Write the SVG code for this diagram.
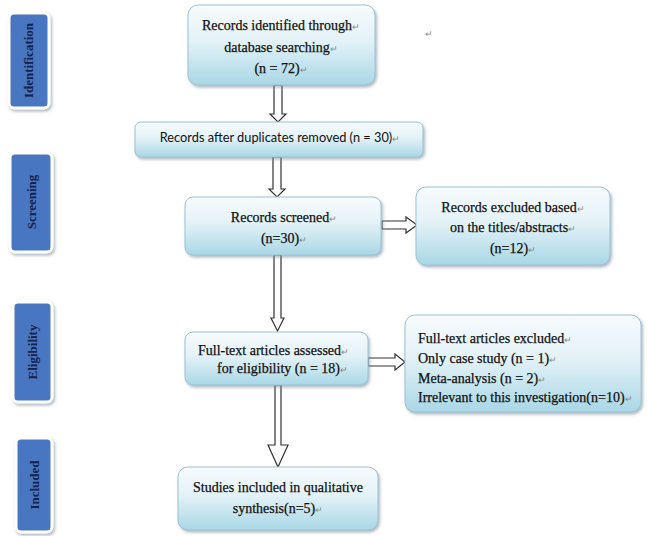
<svg xmlns="http://www.w3.org/2000/svg" width="648" height="536" viewBox="0 0 648 536">
<defs>
<linearGradient id="g" x1="0" y1="0" x2="0" y2="1">
<stop offset="0" stop-color="#f7fbfd"/>
<stop offset="0.45" stop-color="#e3f2f7"/>
<stop offset="1" stop-color="#a9d7e6"/>
</linearGradient>
<filter id="sh" x="-10%" y="-10%" width="130%" height="140%">
<feDropShadow dx="1.5" dy="2" stdDeviation="1.5" flood-color="#7a8a96" flood-opacity="0.6"/>
</filter>
</defs>
<style>
.box{fill:url(#g);stroke:#9cc3d3;stroke-width:1;filter:url(#sh)}
.side{fill:#4a76c1;stroke:#ffffff;stroke-width:3;filter:url(#sh)}
.st{font-family:"Liberation Serif",serif;font-weight:bold;font-size:13px;fill:#13224f}
.t{font-family:"Liberation Serif",serif;font-size:14px;fill:#111;stroke:#111;stroke-width:0.25}
.ts{font-family:Lato,"Liberation Sans",sans-serif;font-size:12.8px;fill:#111}
.rm{font-size:9px;fill:#888;stroke:none}
.arr{fill:#ffffff;stroke:#333;stroke-width:1.2}
</style>
<rect width="648" height="536" fill="#ffffff"/>

<g id="side-identification">
<rect class="side" x="9" y="13" width="40" height="95" rx="5"/>
<text class="st" transform="translate(33,60.5) rotate(-90)" text-anchor="middle">Identification</text>
</g>
<g id="side-screening">
<rect class="side" x="10" y="153" width="42" height="99" rx="5"/>
<text class="st" transform="translate(36,202) rotate(-90)" text-anchor="middle">Screening</text>
</g>
<g id="side-eligibility">
<rect class="side" x="13" y="302" width="39" height="100" rx="5"/>
<text class="st" transform="translate(37,352) rotate(-90)" text-anchor="middle">Eligibility</text>
</g>
<g id="side-included">
<rect class="side" x="16" y="438" width="36" height="94" rx="5"/>
<text class="st" transform="translate(39,485) rotate(-90)" text-anchor="middle">Included</text>
</g>

<g id="connectors">
<path class="arr" d="M274,85 V114 H270 L278,122 L286,114 H282 V85 Z"/>
<path class="arr" d="M273,157 V189 H269 L277,197 L285,189 H281 V157 Z"/>
<path class="arr" d="M274,255 V318 H271 L277.5,331 L284,318 H281 V255 Z"/>
<path class="arr" d="M275,385 V445 H268 L278,467 L288,445 H281 V385 Z"/>
<path class="arr" d="M382,221 H406 V217 L417,225 L406,233 V229 H382 Z"/>
<path class="arr" d="M368,358 H395 V354 L405,362 L395,370 V366 H368 Z"/>
</g>

<g id="n-identified">
<rect class="box" x="188" y="5" width="187" height="80" rx="10"/>
<text class="t" x="281" y="30" text-anchor="middle">Records identified through<tspan class="rm">↵</tspan></text>
<text class="t" x="281" y="52" text-anchor="middle">database searching<tspan class="rm">↵</tspan></text>
<text class="t" x="281" y="73" text-anchor="middle">(n = 72)<tspan class="rm">↵</tspan></text>
</g>
<text class="rm" x="425" y="37" font-family="Liberation Serif,serif">↵</text>

<g id="n-duplicates">
<rect class="box" x="135" y="122" width="288" height="35" rx="6"/>
<text class="ts" x="280" y="142" text-anchor="middle">Records after duplicates removed (n = 30)<tspan class="rm">↵</tspan></text>
</g>

<g id="n-screened">
<rect class="box" x="185" y="197" width="196" height="58" rx="8"/>
<text class="t" x="284" y="222" text-anchor="middle">Records screened<tspan class="rm">↵</tspan></text>
<text class="t" x="284" y="243" text-anchor="middle">(n=30)<tspan class="rm">↵</tspan></text>
</g>

<g id="n-excluded">
<rect class="box" x="416" y="187" width="194" height="78" rx="10"/>
<text class="t" x="513" y="212" text-anchor="middle">Records excluded based<tspan class="rm">↵</tspan></text>
<text class="t" x="513" y="232" text-anchor="middle">on the titles/abstracts<tspan class="rm">↵</tspan></text>
<text class="t" x="513" y="253" text-anchor="middle">(n=12)<tspan class="rm">↵</tspan></text>
</g>

<g id="n-fulltext">
<rect class="box" x="185" y="332" width="183" height="53" rx="8"/>
<text class="t" x="198" y="355">Full-text articles assessed<tspan class="rm">↵</tspan></text>
<text class="t" x="217" y="373">for eligibility (n = 18)<tspan class="rm">↵</tspan></text>
</g>

<g id="n-ftexcluded">
<rect class="box" x="405" y="315" width="236" height="97" rx="10"/>
<text class="t" x="418" y="343">Full-text articles excluded<tspan class="rm">↵</tspan></text>
<text class="t" x="418" y="363">Only case study (n = 1)<tspan class="rm">↵</tspan></text>
<text class="t" x="418" y="383">Meta-analysis (n = 2)<tspan class="rm">↵</tspan></text>
<text class="t" x="418" y="402">Irrelevant to this investigation(n=10)<tspan class="rm">↵</tspan></text>
</g>

<g id="n-included">
<rect class="box" x="178" y="467" width="200" height="63" rx="10"/>
<text class="t" x="278" y="492" text-anchor="middle">Studies included in qualitative</text>
<text class="t" x="278" y="513" text-anchor="middle">synthesis(n=5)<tspan class="rm">↵</tspan></text>
</g>
</svg>
